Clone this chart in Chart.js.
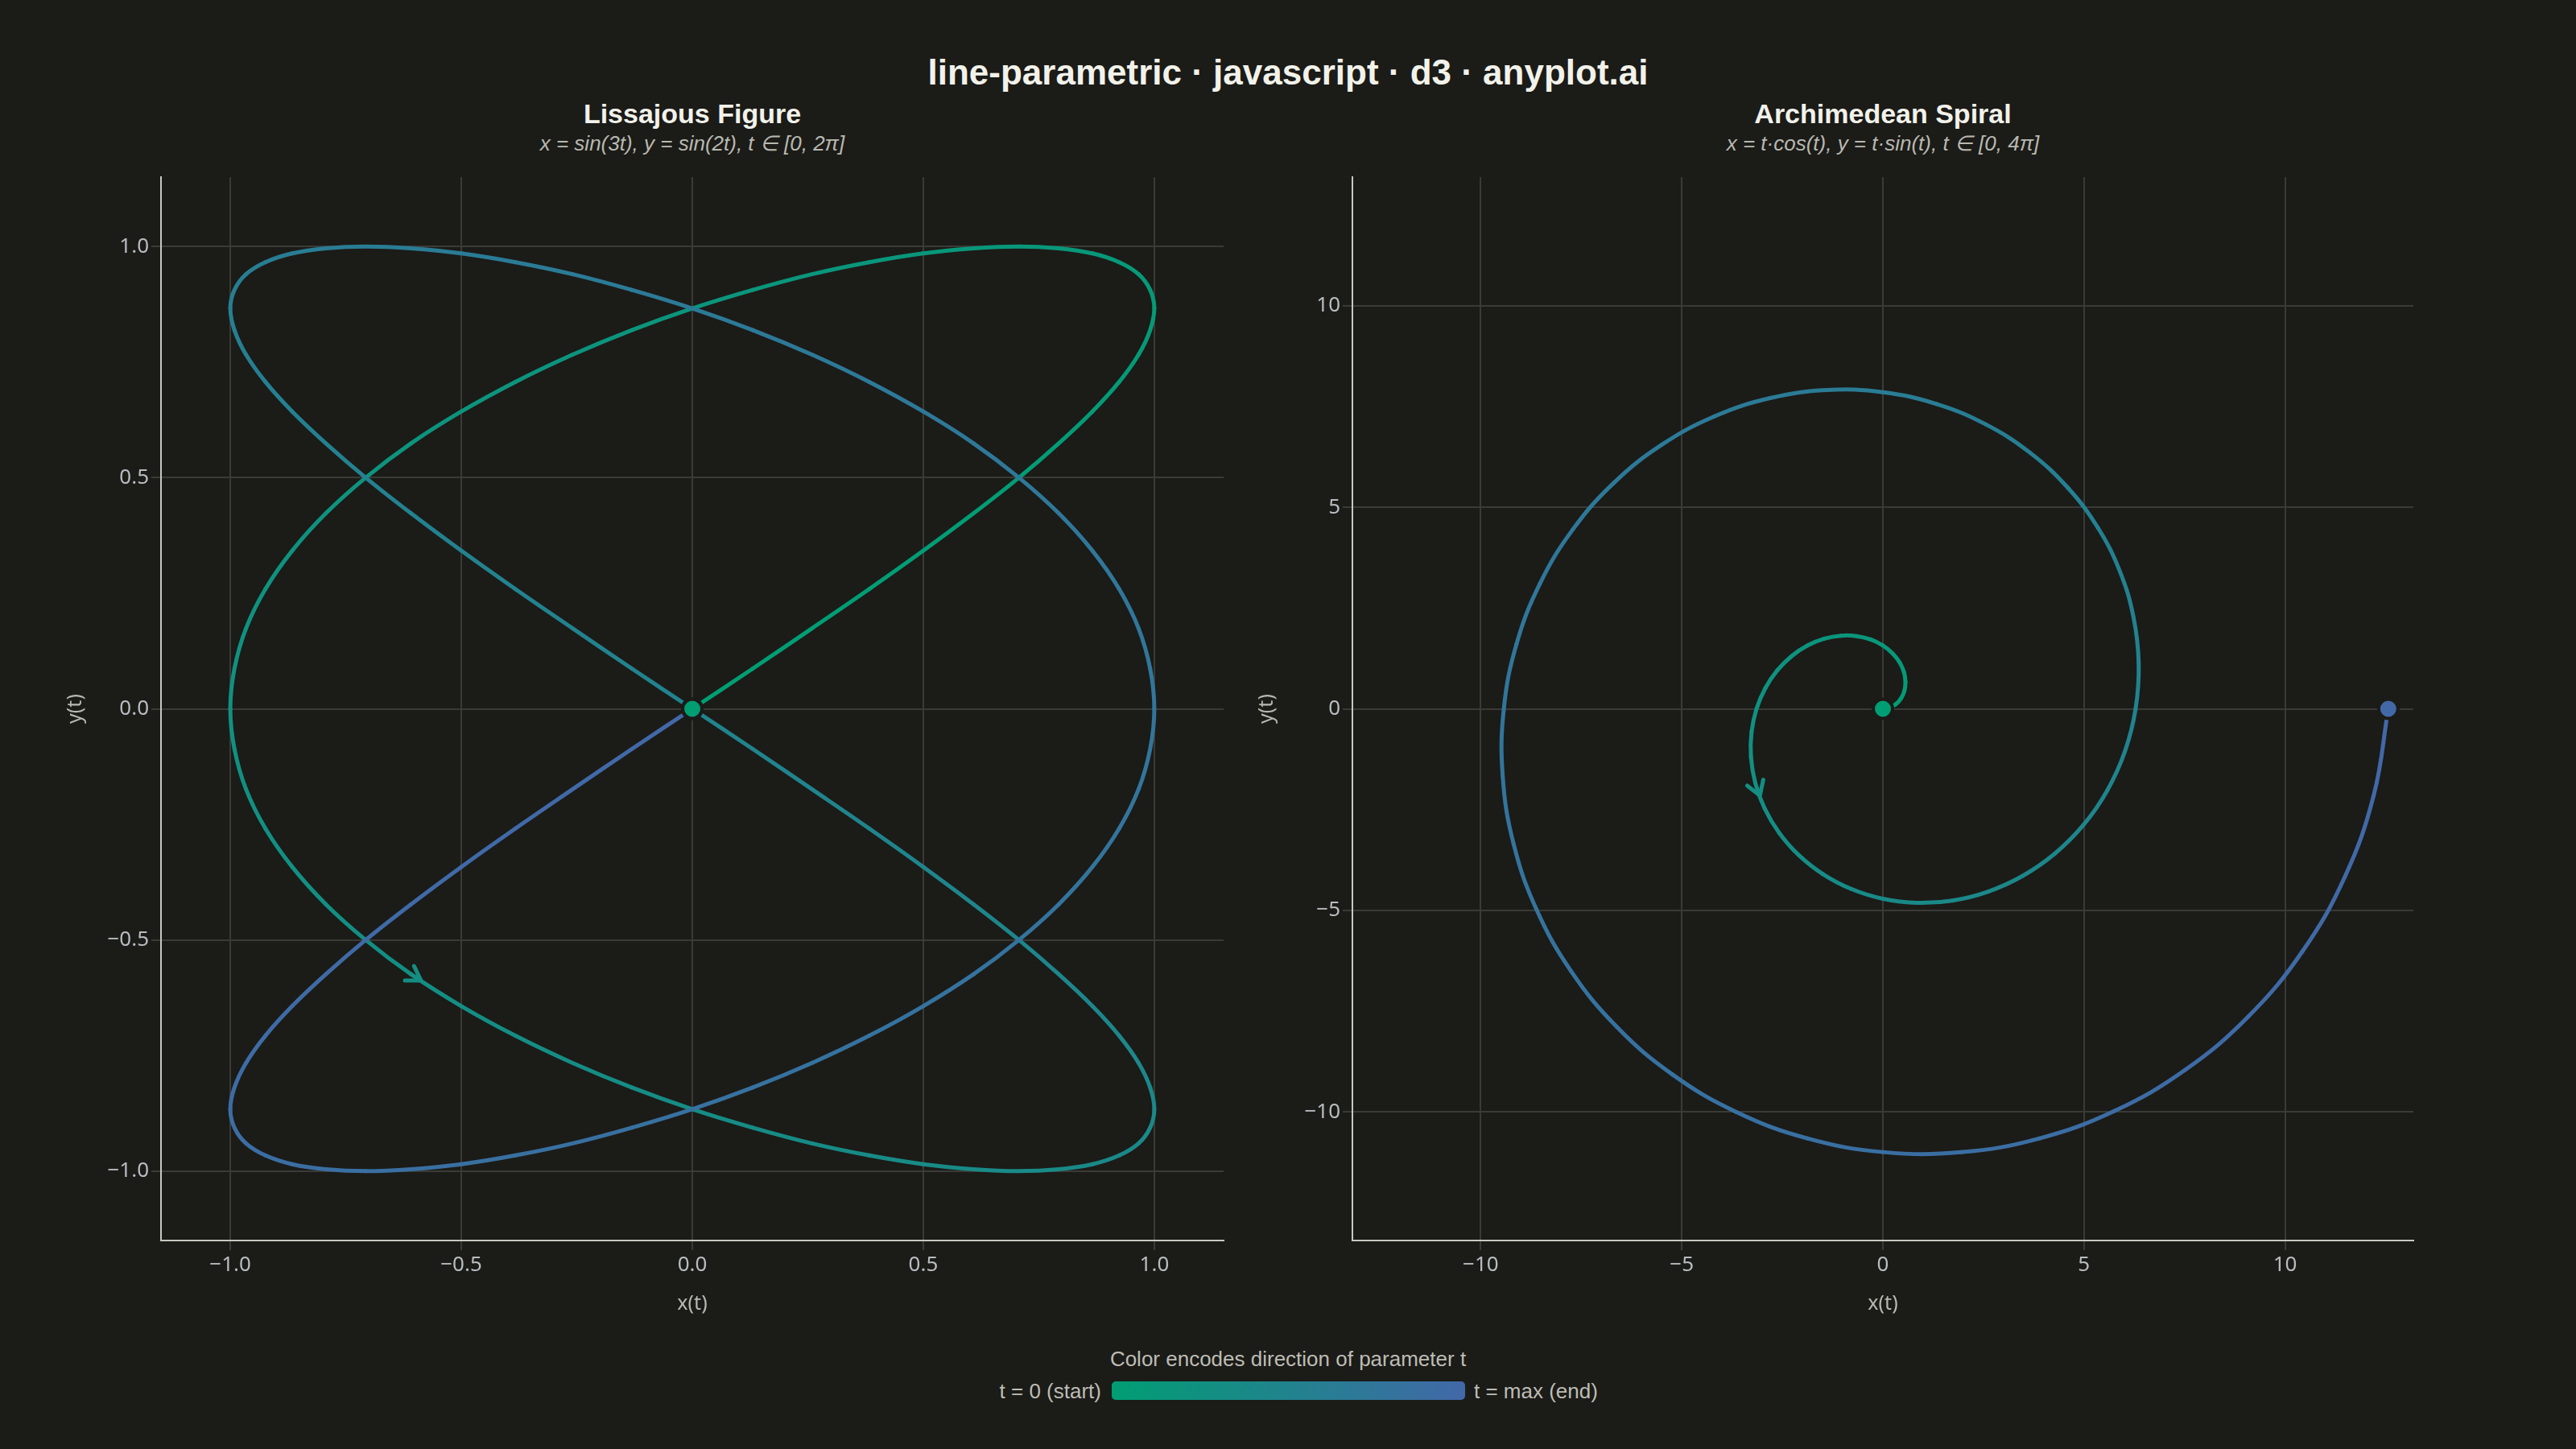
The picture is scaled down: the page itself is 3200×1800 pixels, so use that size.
<!DOCTYPE html>
<html lang="en">
<head>
<meta charset="UTF-8">
<title>line-parametric</title>
<script src="https://cdn.jsdelivr.net/npm/chart.js"></script>
<style>
  body { margin: 0; width: 3200px; height: 1800px; background: #1b1b18; position: relative; overflow: hidden;
         font-family: "Liberation Sans", Arial, sans-serif; }
  .abs { position: absolute; white-space: nowrap; }
  #title { left: 0; width: 3200px; top: 64px; line-height: 52px; text-align: center; font-weight: bold; font-size: 44px; color: #f2f2ea; }
  .ptitle { width: 1000px; top: 121px; line-height: 40px; text-align: center; font-weight: bold; font-size: 34px; color: #f2f2ea; }
  .psub { width: 1000px; top: 163px; line-height: 30px; text-align: center; font-style: italic; font-size: 26px; color: #b8b8b0; }
  .legend { font-size: 26px; color: #bdbdb5; line-height: 30px; }
  #bar { left: 1381px; top: 1716px; width: 439px; height: 23px; border-radius: 5px;
         background: linear-gradient(to right, rgb(0,158,115), rgb(66,104,168)); }
  canvas { position: absolute; }
</style>
</head>
<body>
  <div id="title" class="abs">line-parametric · javascript · d3 · anyplot.ai</div>
  <div class="abs ptitle" style="left:360px">Lissajous Figure</div>
  <div class="abs psub" style="left:360px">x = sin(3t), y = sin(2t), t ∈ [0, 2π]</div>
  <div class="abs ptitle" style="left:1839px">Archimedean Spiral</div>
  <div class="abs psub" style="left:1839px">x = t·cos(t), y = t·sin(t), t ∈ [0, 4π]</div>

  <canvas id="liss" width="1471" height="1435" style="left:79px; top:200px"></canvas>
  <canvas id="spiral" width="1469" height="1435" style="left:1559px; top:200px"></canvas>

  <div class="abs legend" style="left:0; width:3200px; top:1673px; text-align:center">Color encodes direction of parameter t</div>
  <div class="abs legend" style="right:1832px; top:1713px">t = 0 (start)</div>
  <div id="bar" class="abs"></div>
  <div class="abs legend" style="left:1831px; top:1713px">t = max (end)</div>

<script>
  // Lissajous: t in [0, 2pi], sampled every 2.5 degrees
  const lissX = [0, .131, .259, .383, .5, .609, .707, .793, .866, .924, .966, .991, 1, .991, .966, .924, .866, .793, .707, .609, .5, .383, .259, .131,
                 0, -.131, -.259, -.383, -.5, -.609, -.707, -.793, -.866, -.924, -.966, -.991, -1, -.991, -.966, -.924, -.866, -.793, -.707, -.609, -.5, -.383, -.259, -.131,
                 0, .131, .259, .383, .5, .609, .707, .793, .866, .924, .966, .991, 1, .991, .966, .924, .866, .793, .707, .609, .5, .383, .259, .131,
                 0, -.131, -.259, -.383, -.5, -.609, -.707, -.793, -.866, -.924, -.966, -.991, -1, -.991, -.966, -.924, -.866, -.793, -.707, -.609, -.5, -.383, -.259, -.131,
                 0, .131, .259, .383, .5, .609, .707, .793, .866, .924, .966, .991, 1, .991, .966, .924, .866, .793, .707, .609, .5, .383, .259, .131,
                 0, -.131, -.259, -.383, -.5, -.609, -.707, -.793, -.866, -.924, -.966, -.991, -1, -.991, -.966, -.924, -.866, -.793, -.707, -.609, -.5, -.383, -.259, -.131,
                 0];
  const lissY = [0, .087, .174, .259, .342, .423, .5, .574, .643, .707, .766, .819, .866, .906, .94, .966, .985, .996,
                 1, .996, .985, .966, .94, .906, .866, .819, .766, .707, .643, .574, .5, .423, .342, .259, .174, .087,
                 0, -.087, -.174, -.259, -.342, -.423, -.5, -.574, -.643, -.707, -.766, -.819, -.866, -.906, -.94, -.966, -.985, -.996,
                 -1, -.996, -.985, -.966, -.94, -.906, -.866, -.819, -.766, -.707, -.643, -.574, -.5, -.423, -.342, -.259, -.174, -.087,
                 0, .087, .174, .259, .342, .423, .5, .574, .643, .707, .766, .819, .866, .906, .94, .966, .985, .996,
                 1, .996, .985, .966, .94, .906, .866, .819, .766, .707, .643, .574, .5, .423, .342, .259, .174, .087,
                 0, -.087, -.174, -.259, -.342, -.423, -.5, -.574, -.643, -.707, -.766, -.819, -.866, -.906, -.94, -.966, -.985, -.996,
                 -1, -.996, -.985, -.966, -.94, -.906, -.866, -.819, -.766, -.707, -.643, -.574, -.5, -.423, -.342, -.259, -.174, -.087,
                 0];

  // Archimedean spiral: t in [0, 4pi], sampled every 10 degrees
  const spiralX = [0, .172, .328, .453, .535, .561, .524, .418, .242, 0,
                   -.303, -.657, -1.047, -1.459, -1.872, -2.267, -2.624, -2.922, -3.142,
                   -3.266, -3.280, -3.174, -2.941, -2.580, -2.094, -1.492, -.788, 0,
                   .848, 1.731, 2.618, 3.478, 4.278, 4.988, 5.576, 6.016, 6.283,
                   6.360, 6.232, 5.895, 5.348, 4.600, 3.665, 2.567, 1.333, 0,
                   -1.394, -2.805, -4.189, -5.497, -6.685, -7.708, -8.528, -9.110, -9.425,
                   -9.453, -9.184, -8.615, -7.754, -6.619, -5.236, -3.641, -1.879, 0,
                   1.939, 3.880, 5.760, 7.517, 9.091, 10.429, 11.481, 12.203, 12.566];
  const spiralY = [0, .030, .119, .262, .449, .669, .907, 1.148, 1.375, 1.571,
                   1.719, 1.804, 1.814, 1.738, 1.571, 1.309, .955, .515, 0,
                   -.576, -1.194, -1.833, -2.468, -3.075, -3.628, -4.100, -4.469, -4.712,
                   -4.813, -4.756, -4.534, -4.144, -3.590, -2.880, -2.030, -1.061, 0,
                   1.121, 2.268, 3.403, 4.488, 5.481, 6.348, 7.052, 7.563, 7.854,
                   7.907, 7.708, 7.255, 6.551, 5.610, 4.451, 3.104, 1.606, 0,
                   -1.666, -3.343, -4.974, -6.507, -7.888, -9.069, -10.005, -10.657, -10.996,
                   -11.000, -10.661, -9.976, -8.957, -7.629, -6.021, -4.178, -2.151, 0];

  const lissTicks = [-1, -0.5, 0, 0.5, 1];
  const spiralTicks = [-10, -5, 0, 5, 10];

  const BG = '#1b1b18';
  const START = [0, 158, 115], END = [66, 104, 168];
  function colorAt(f) {
    return 'rgb(' + START.map((c, i) => Math.round(c + (END[i] - c) * f)).join(',') + ')';
  }
  const minus = s => s.replace('-', '\u2212');

  // direction chevron drawn on the curve, at a position between two samples
  const arrowPlugin = {
    id: 'arrow',
    afterDatasetsDraw(chart, args, opts) {
      const pts = chart.getDatasetMeta(0).data;
      const a = pts[opts.index], b = pts[opts.index + 1];
      const tx = a.x + (b.x - a.x) * opts.frac, ty = a.y + (b.y - a.y) * opts.frac;
      const ang = Math.atan2(b.y - a.y, b.x - a.x);
      const ctx = chart.ctx;
      ctx.save();
      ctx.strokeStyle = colorAt((opts.index + opts.frac) / (pts.length - 1));
      ctx.lineWidth = 5;
      ctx.lineCap = 'round';
      ctx.lineJoin = 'round';
      ctx.beginPath();
      ctx.moveTo(tx + 20 * Math.cos(ang + Math.PI - 0.56), ty + 20 * Math.sin(ang + Math.PI - 0.56));
      ctx.lineTo(tx, ty);
      ctx.lineTo(tx + 20 * Math.cos(ang + Math.PI + 0.56), ty + 20 * Math.sin(ang + Math.PI + 0.56));
      ctx.stroke();
      ctx.restore();
    }
  };

  function makeChart(id, xs, ys, ticks, lim, fmt, arrow) {
    const pts = xs.map((x, i) => ({ x, y: ys[i] }));
    const n = pts.length;
    const axis = (title, isX) => ({
      type: 'linear',
      min: -lim, max: lim,
      afterBuildTicks: s => { s.ticks = ticks.map(v => ({ value: v })); },
      afterFit: s => { if (isX) s.height = 94; else s.width = 121; },
      grid: { color: '#3a3a36', lineWidth: 2, tickLength: 12, drawTicks: true },
      border: { display: true, color: '#c8c8c0', width: 2 },
      ticks: {
        color: '#b8bcc0', padding: 3,
        font: { family: '"Noto Sans", sans-serif', size: 26 },
        callback: v => minus(fmt(v))
      },
      title: {
        display: true, text: title, color: '#b8b8b0', padding: 0,
        font: { family: '"Noto Sans", sans-serif', size: 25 }
      }
    });
    return new Chart(document.getElementById(id), {
      type: 'line',
      data: {
        datasets: [{
          data: pts,
          order: 1,
          borderWidth: 5,
          tension: 0.4,
          pointRadius: 0,
          borderCapStyle: 'round',
          borderJoinStyle: 'round',
          segment: { borderColor: c => colorAt((c.p0DataIndex + 0.5) / (n - 1)) }
        }, {
          data: [pts[n - 1], pts[0]],
          order: 0,
          showLine: false,
          pointRadius: 12,
          pointBorderWidth: 4,
          pointBorderColor: BG,
          pointBackgroundColor: [colorAt(1), colorAt(0)]
        }]
      },
      options: {
        responsive: false,
        animation: false,
        layout: { padding: { top: 20, right: 30, left: 0, bottom: 0 } },
        scales: { x: axis('x(t)', true), y: axis('y(t)', false) },
        plugins: { legend: { display: false }, tooltip: { enabled: false }, arrow }
      },
      plugins: [arrowPlugin]
    });
  }

  makeChart('liss', lissX, lissY, lissTicks, 1.15, v => v.toFixed(1), { index: 43, frac: 0.2 });
  makeChart('spiral', spiralX, spiralY, spiralTicks, 13.19, v => String(v), { index: 21, frac: 0.5 });
</script>
</body>
</html>
